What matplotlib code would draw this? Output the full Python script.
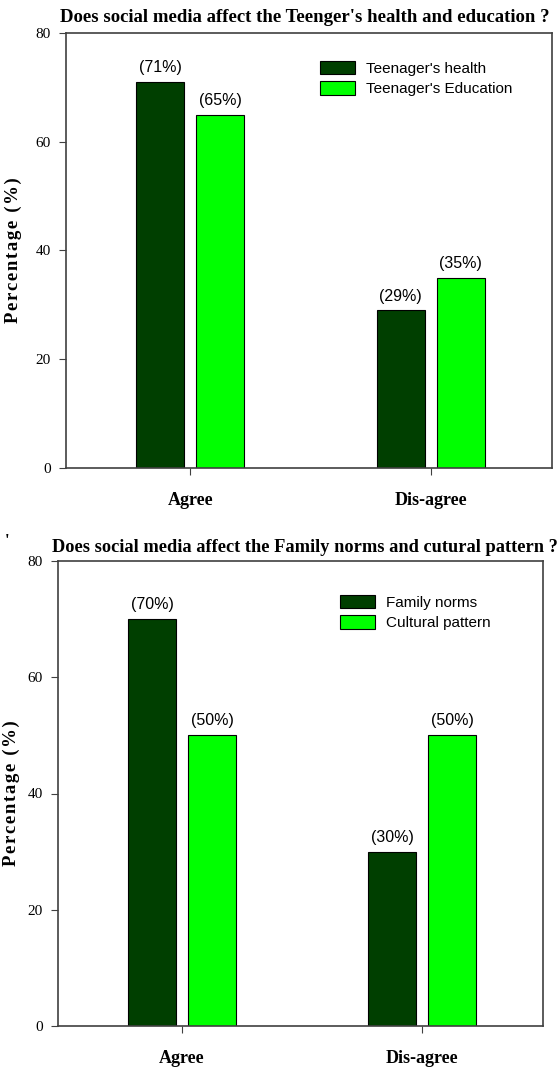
import matplotlib
matplotlib.use("Agg")
import matplotlib.pyplot as plt
from matplotlib.patches import Patch

categories = ["Agree", "Dis-agree"]

health = [71, 29]
education = [65, 35]
family = [70, 30]
cultural = [50, 50]

dark_green = "#003f00"
light_green = "#00ff00"
frame_col = "#404040"

W, H = 558, 1069
fig = plt.figure(figsize=(W / 100, H / 100), dpi=100)


def px_axes(left, top, right, bottom):
    return fig.add_axes([left / W, 1 - bottom / H, (right - left) / W, (bottom - top) / H])


def draw_panel(ax, s1, s2, names, title, title_x, title_y, title_size,
               leg_anchor, ylab_x):
    x = range(len(categories))
    off, bw = 0.125, 0.2
    b1 = ax.bar([i - off for i in x], s1, width=bw, color=dark_green,
                edgecolor="black", linewidth=0.8)
    b2 = ax.bar([i + off for i in x], s2, width=bw, color=light_green,
                edgecolor="black", linewidth=0.8)
    for bars, vals in ((b1, s1), (b2, s2)):
        for b, v in zip(bars, vals):
            ax.text(b.get_x() + b.get_width() / 2, v + 1.2, f"({v}%)",
                    ha="center", va="bottom", fontsize=11.5,
                    family="Liberation Sans")
    ax.set_xlim(-0.517, 1.504)
    ax.set_ylim(0, 80)
    ax.set_yticks([0, 20, 40, 60, 80])
    ax.set_xticks(list(x))
    ax.set_xticklabels(categories, family="Liberation Serif",
                       fontweight="bold", fontsize=13)
    for lab in ax.get_yticklabels():
        lab.set_family("Liberation Serif")
        lab.set_fontsize(11)
    ax.tick_params(axis="y", direction="out", length=5, color=frame_col, pad=6)
    ax.tick_params(axis="x", direction="out", length=5, color=frame_col, pad=12)
    for sp in ax.spines.values():
        sp.set_color(frame_col)
        sp.set_linewidth(1.2)
    ax.set_ylabel("\u200a".join("Percentage (%)"), family="Liberation Serif",
                  fontweight="bold", fontsize=13.5)
    ax.yaxis.set_label_coords(ylab_x, 0.5)
    fig.text(title_x / W, 1 - title_y / H, title, family="Liberation Serif",
             fontweight="bold", fontsize=title_size, ha="left", va="center")
    handles = [Patch(facecolor=dark_green, edgecolor="black", linewidth=0.8),
               Patch(facecolor=light_green, edgecolor="black", linewidth=0.8)]
    ax.legend(handles, names, loc="upper left",
              bbox_to_anchor=leg_anchor, frameon=False,
              prop={"family": "Liberation Sans", "size": 11},
              handlelength=2.3, handleheight=1.0, handletextpad=0.7,
              labelspacing=0.35)


ax1 = px_axes(66, 33, 552, 468)
draw_panel(ax1, health, education,
           ["Teenager's health", "Teenager's Education"],
           "Does social media affect the Teenger's health and education ?",
           60, 17, 13.5, ((306 - 66) / 486, (468 - 47) / 435), (22 - 66) / 486)

ax2 = px_axes(58, 561, 543, 1026)
draw_panel(ax2, family, cultural,
           ["Family norms", "Cultural pattern"],
           "Does social media affect the Family norms and cutural pattern ?",
           52, 548, 13.2, ((326 - 58) / 485, (1026 - 581) / 465), (20 - 58) / 485)

fig.text(5 / W, 1 - 541 / H, "'", family="Liberation Serif",
         fontweight="bold", fontsize=12, ha="left", va="center")

fig.savefig("out.png", dpi=100)
